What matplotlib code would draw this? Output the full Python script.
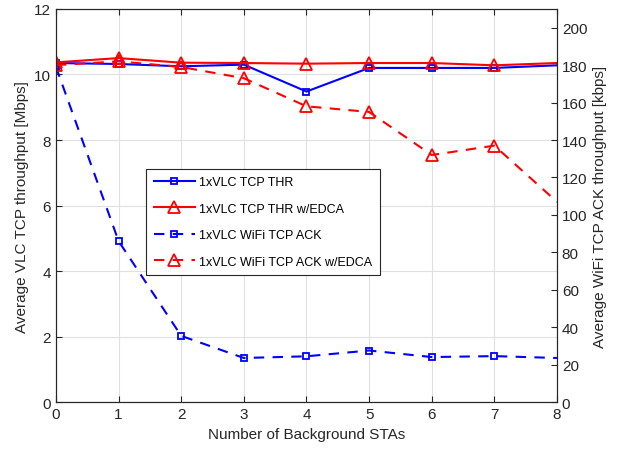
import numpy as np
import matplotlib.pyplot as plt

stas = [0, 1, 2, 3, 4, 5, 6, 7, 8]
thr = [10.35, 10.32, 10.25, 10.3, 9.48, 10.2, 10.2, 10.2, 10.28]
thr_edca = [10.37, 10.5, 10.36, 10.35, 10.33, 10.35, 10.35, 10.28, 10.35]
ack = [179, 86, 35.4, 23.6, 24.5, 27.6, 24.1, 24.6, 23.6]
ack_edca = [180, 182, 179, 173, 158, 155, 132, 137, 107]

plt.rcParams['font.family'] = ['Liberation Sans', 'DejaVu Sans']
plt.rcParams['font.size'] = 11

fig = plt.figure(figsize=(6.24, 4.52), dpi=100)
ax = fig.add_axes([0.0897, 0.108, 0.8029, 0.870])
ax2 = ax.twinx()

mk = slice(0, 8)  # no marker drawn at the last point
l1, = ax.plot(stas, thr, color='blue', lw=1.5, marker='s', ms=5, mfc='none', mew=1.3, markevery=mk, label='1xVLC TCP THR')
l2, = ax.plot(stas, thr_edca, color='red', lw=1.5, marker='^', ms=8.5, mfc='none', mew=1.3, markevery=mk, label='1xVLC TCP THR w/EDCA')
l3, = ax2.plot(stas, ack, color='blue', lw=1.5, ls=(0, (5, 4)), marker='s', ms=5, mfc='none', mew=1.3, markevery=mk, label='1xVLC WiFi TCP ACK')
l4, = ax2.plot(stas, ack_edca, color='red', lw=1.5, ls=(0, (5, 4)), marker='^', ms=8.5, mfc='none', mew=1.3, markevery=mk, label='1xVLC WiFi TCP ACK w/EDCA')

ax.set_xlim(0, 8)
ax.set_ylim(0, 12)
ax2.set_ylim(0, 210)
ax.set_xticks(range(0, 9))
ax.set_yticks(range(0, 13, 2))
ax2.set_yticks(range(0, 201, 20))
ax.grid(True, color='#e0e0e0', lw=0.8)
ax.set_axisbelow(True)
for a in (ax, ax2):
    a.tick_params(direction='in', length=4, color='#262626', labelcolor='#262626')
    for s in a.spines.values():
        s.set_color('#262626')
ax.tick_params(top=True)

ax.set_xlabel('Number of Background STAs', color='#262626')
ax.set_ylabel('Average VLC TCP throughput [Mbps]', color='#262626')
ax2.set_ylabel('Average WiFi TCP ACK throughput [kbps]', color='#262626')

leg = ax.legend(handles=[l1, l2, l3, l4], loc='upper left', bbox_to_anchor=(0.18, 0.593),
                borderaxespad=0, fontsize=9, fancybox=False, edgecolor='#262626', framealpha=1,
                handlelength=3.3, handletextpad=0.35, borderpad=0.6, labelspacing=1.15)
leg.get_frame().set_linewidth(0.8)

plt.savefig('out.png', dpi=100)
